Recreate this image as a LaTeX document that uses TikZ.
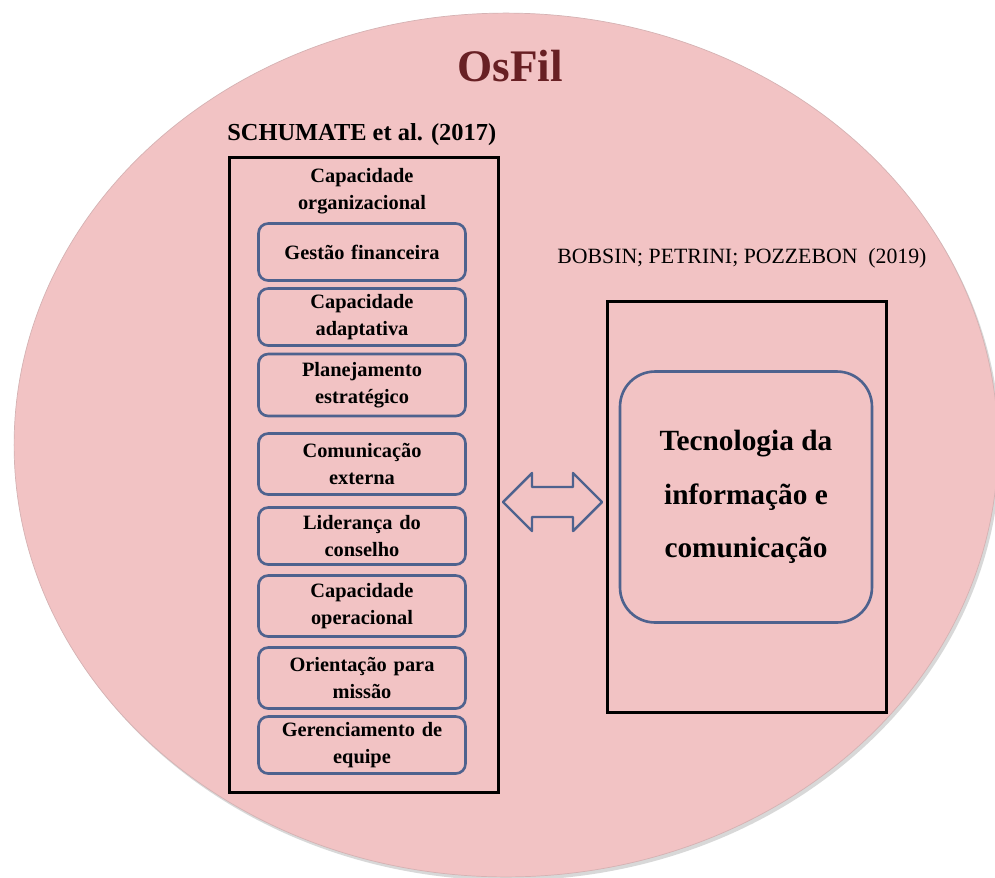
\documentclass[tikz,border=0pt]{standalone}
\usepackage{fontspec}
\setmainfont{Liberation Serif}
\definecolor{osfilpink}{RGB}{242,195,196}
\definecolor{osfilred}{RGB}{104,32,36}
\definecolor{slateblue}{RGB}{78,98,142}
\usetikzlibrary{shapes,arrows,positioning,shadows}

\begin{document}
\begin{tikzpicture}[x=0.02cm,y=-0.02cm,
        frame/.style={draw=black,line width=1.7pt,fill=osfilpink,inner sep=0pt},
        item/.style={draw=slateblue,line width=1.5pt,rounded corners=5.5pt,fill=osfilpink,
                     minimum width=4.14cm,minimum height=1.14cm,text width=4cm,align=center,inner sep=1pt,
                     font=\fontsize{11.6}{15.2}\selectfont\bfseries},
        twoway/.style={draw=slateblue,line width=1.4pt,fill=osfilpink,line join=round}
    ]
        \useasboundingbox (0,0) rectangle (995,877);
        % Background
        \fill[white] (0,0) rectangle (995,877);
        \draw[draw=osfilpink!75!gray,line width=0.4pt,fill=osfilpink,
              drop shadow={opacity=0.3,shadow xshift=0.05cm,shadow yshift=-0.07cm}]
            (506,445) ellipse [x radius=9.84cm,y radius=8.64cm];

        % Titles
        \node[text=osfilred,font=\fontsize{25.7}{30}\selectfont\bfseries] (osfil) at (510,66) {OsFil};
        \node[anchor=west,inner sep=0pt,font=\fontsize{13.9}{16}\selectfont\bfseries] (schumate) at (227,135) {SCHUMATE et al. (2017)};
        \node[anchor=west,inner sep=0pt,font=\fontsize{12.4}{15}\selectfont] (bobsin) at (557,258) {BOBSIN; PETRINI; POZZEBON\ \ (2019)};

        % Left box
        \node[frame,minimum width=5.4cm,minimum height=12.72cm] (orgbox) at (364,475) {};
        \node[align=center,font=\fontsize{11.6}{15.2}\selectfont\bfseries] (orgtitle) at (362,191) {Capacidade\\organizacional};
        \node[item] (gestao) at (362,252) {Gest\~ao financeira};
        \node[item] (adaptativa) at (362,317) {Capacidade\\adaptativa};
        \node[item,minimum height=1.24cm] (planejamento) at (362,385) {Planejamento\\estrat\'egico};
        \node[item,minimum height=1.22cm] (comunicacao) at (362,464) {Comunica\c{c}\~ao\\externa};
        \node[item] (lideranca) at (362,536) {Lideran\c{c}a do\\conselho};
        \node[item,minimum height=1.22cm] (operacional) at (362,606) {Capacidade\\operacional};
        \node[item,minimum height=1.22cm] (missao) at (362,678) {Orienta\c{c}\~ao para\\miss\~ao};
        \node[item] (equipe) at (362,745) {Gerenciamento de\\equipe};

        % Right box
        \node[frame,minimum width=5.58cm,minimum height=8.22cm] (ticbox) at (747,507) {};
        \node[draw=slateblue,line width=1.5pt,rounded corners=0.7cm,fill=osfilpink,
              minimum width=5.04cm,minimum height=5.02cm,align=center,
              font=\fontsize{16.7}{30.6}\selectfont\bfseries] (tic) at (746,497)
              {Tecnologia da\\informa\c{c}\~ao e\\comunica\c{c}\~ao};

        % Arrow
        \draw[twoway] (503,502) -- (532,473) -- (532,487) -- (573,487) -- (573,473) -- (602,502)
            -- (573,531) -- (573,517) -- (532,517) -- (532,531) -- cycle;
    \end{tikzpicture}
\end{document}
